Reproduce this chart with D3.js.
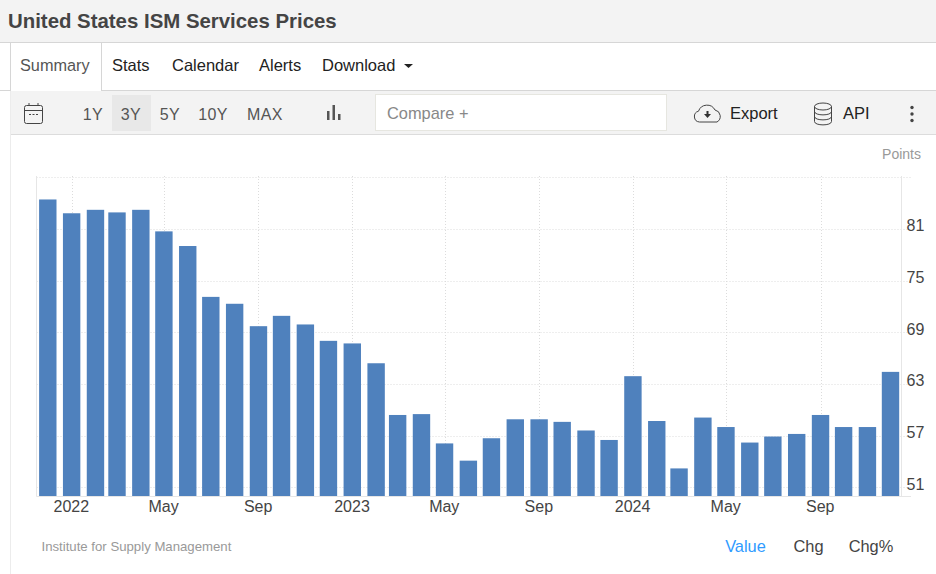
<!DOCTYPE html>
<html>
<head>
<meta charset="utf-8">
<script src="https://cdnjs.cloudflare.com/ajax/libs/d3/7.8.5/d3.min.js"></script>
<style>
    html, body { margin: 0; padding: 0; background: #fff; }
    svg { display: block; font-family: "Liberation Sans", sans-serif; }
</style>
</head>
<body>
<div id="chart"></div>
<script>
// Monthly readings, Dec 2021 to Dec 2024
const months = [
    "2021-12", "2022-01", "2022-02", "2022-03", "2022-04", "2022-05", "2022-06", "2022-07", "2022-08",
    "2022-09", "2022-10", "2022-11", "2022-12", "2023-01", "2023-02", "2023-03", "2023-04", "2023-05",
    "2023-06", "2023-07", "2023-08", "2023-09", "2023-10", "2023-11", "2023-12", "2024-01", "2024-02",
    "2024-03", "2024-04", "2024-05", "2024-06", "2024-07", "2024-08", "2024-09", "2024-10", "2024-11",
    "2024-12"
];
const values = [
    84.4, 82.8, 83.2, 82.9, 83.2, 80.7, 79.0, 73.1, 72.3,
    69.7, 70.9, 69.9, 68.0, 67.7, 65.4, 59.4, 59.5, 56.1,
    54.1, 56.7, 58.9, 58.9, 58.6, 57.6, 56.5, 63.9, 58.7,
    53.2, 59.1, 58.0, 56.2, 56.9, 57.2, 59.4, 58.0, 58.0,
    64.4
];
const xTickMonths = ["2022-01", "2022-05", "2022-09", "2023-01", "2023-05", "2023-09", "2024-01", "2024-05", "2024-09"];
const xTickLabels = ["2022", "May", "Sep", "2023", "May", "Sep", "2024", "May", "Sep"];
const yTicks = [51, 57, 63, 69, 75, 81];
const yGridTop = 87;
const tabs = ["Stats", "Calendar", "Alerts", "Download"];
const tabX = [112, 172, 259, 322];
const ranges = ["1Y", "3Y", "5Y", "10Y", "MAX"];
const rangeX = [93, 131, 170, 213, 265];
const footerLinks = ["Value", "Chg", "Chg%"];
const footerX = [745.5, 808.5, 871];

const width = 936;
const height = 574;
const parseMonth = d3.utcParse("%Y-%m");

const svg = d3.select("#chart").append("svg")
    .attr("width", width)
    .attr("height", height)
    .attr("viewBox", [0, 0, width, height]);

// ---- Page chrome ----
svg.append("rect").attr("width", width).attr("height", 42).attr("fill", "#f3f3f3");
svg.append("rect").attr("y", 42).attr("width", width).attr("height", 1).attr("fill", "#d6d6d6");
svg.append("text").attr("x", 8).attr("y", 28)
    .attr("font-size", 20.4).attr("font-weight", "bold").attr("fill", "#444")
    .text("United States ISM Services Prices");

// Toolbar
svg.append("rect").attr("x", 10).attr("y", 90).attr("width", width - 10).attr("height", 45).attr("fill", "#f3f3f3");
svg.append("rect").attr("y", 90).attr("width", width).attr("height", 1).attr("fill", "#d6d6d6");
svg.append("rect").attr("x", 10).attr("y", 134).attr("width", width - 10).attr("height", 1).attr("fill", "#dcdcdc");
svg.append("rect").attr("x", 10).attr("y", 43).attr("width", 1).attr("height", height - 43).attr("fill", "#ececec");

// Tabs
svg.append("rect").attr("x", 10).attr("y", 43).attr("width", 91).attr("height", 48).attr("fill", "#fff");
svg.append("rect").attr("x", 101).attr("y", 43).attr("width", 1).attr("height", 48).attr("fill", "#d6d6d6");
svg.append("rect").attr("x", 10).attr("y", 43).attr("width", 1).attr("height", 48).attr("fill", "#d6d6d6");
svg.append("text").attr("x", 20).attr("y", 71).attr("font-size", 16.3).attr("fill", "#555").text("Summary");
svg.append("g").selectAll("text").data(tabs).join("text")
    .attr("x", (d, i) => tabX[i]).attr("y", 71)
    .attr("font-size", 16.5).attr("fill", "#222")
    .text(d => d);
svg.append("path").attr("d", "M404,64h9l-4.5,4z").attr("fill", "#222");

// Calendar icon
const cal = svg.append("g").attr("fill", "none").attr("stroke", "#444").attr("stroke-width", 1);
cal.append("rect").attr("x", 24.5).attr("y", 105.5).attr("width", 18).attr("height", 18).attr("rx", 2);
cal.append("path").attr("d", "M24.5,110.5h18M29,103v3M38,103v3");
cal.append("path").attr("d", "M29,114.5h2M32.5,114.5h2M36,114.5h2");

// Range buttons
svg.append("rect").attr("x", 112).attr("y", 95).attr("width", 39).attr("height", 36).attr("fill", "#e8e8e8");
svg.append("g").selectAll("text").data(ranges).join("text")
    .attr("x", (d, i) => rangeX[i]).attr("y", 120)
    .attr("text-anchor", "middle").attr("font-size", 16).attr("letter-spacing", 0.4).attr("fill", "#555")
    .text(d => d);

// Bar chart icon
svg.append("path").attr("d", "M327,111h2.5v9H327zM332.5,105h2.5v15h-2.5zM338,114h2.5v6H338z").attr("fill", "#555");

// Compare box
svg.append("rect").attr("x", 375.5).attr("y", 94.5).attr("width", 291).attr("height", 36)
    .attr("fill", "#fff").attr("stroke", "#e6e6e0");
svg.append("text").attr("x", 387).attr("y", 119).attr("font-size", 16.4).attr("fill", "#888").text("Compare +");

// Export icon and text
svg.append("path")
    .attr("d", "M702,122h-2.5a5.5,5.5 0 0 1 -1,-10.8a9,9 0 0 1 16.5,-1.2a6.5,6.5 0 0 1 2,12h-15")
    .attr("fill", "none").attr("stroke", "#444");
svg.append("path").attr("d", "M706.5,111h2v3h2.5l-3.5,4l-3.5,-4h2.5z").attr("fill", "#333");
svg.append("text").attr("x", 730).attr("y", 119).attr("font-size", 16.5).attr("fill", "#222").text("Export");

// API icon and text
const db = svg.append("g").attr("fill", "none").attr("stroke", "#444");
db.append("ellipse").attr("cx", 823).attr("cy", 106.5).attr("rx", 8.5).attr("ry", 3.5);
db.append("path").attr("d", "M814.5,106.5v15c0,4.500 17,4.500 17,0v-15M814.5,111.500c0,4.500 17,4.500 17,0M814.500,116.500c0,4.500 17,4.500 17,0");
svg.append("text").attr("x", 843).attr("y", 119).attr("font-size", 16.5).attr("fill", "#222").text("API");

// Kebab menu
svg.append("g").selectAll("circle").data([107.5, 114, 120.5]).join("circle")
    .attr("cx", 912).attr("cy", d => d).attr("r", 1.7).attr("fill", "#444");

// ---- Chart ----
const plot = { left: 36.5, right: 901.5, top: 176, bottom: 496 };

const x = d3.scaleUtc()
    .domain([parseMonth(months[0]), parseMonth(months[months.length - 1])])
    .range([47.8, 890.5]);

const y = d3.scaleLinear()
    .domain([50, yGridTop])
    .range([plot.bottom, plot.bottom - (yGridTop - 50) * 8.62]);

const barWidth = 17.4;

// Gridlines sit behind the bars
const grid = svg.append("g")
    .attr("fill", "none").attr("stroke", "#dcdcdc").attr("stroke-dasharray", "1,2");
grid.selectAll("line.h").data(yTicks.concat(yGridTop)).join("line")
    .attr("class", "h")
    .attr("x1", plot.left).attr("x2", 911)
    .attr("y1", d => Math.round(y(d)) + 0.5).attr("y2", d => Math.round(y(d)) + 0.5);
grid.selectAll("line.v").data(xTickMonths).join("line")
    .attr("class", "v")
    .attr("x1", d => Math.round(x(parseMonth(d))) + 0.5).attr("x2", d => Math.round(x(parseMonth(d))) + 0.5)
    .attr("y1", plot.top).attr("y2", plot.bottom);

svg.append("g").selectAll("rect").data(values).join("rect")
    .attr("x", (d, i) => x(parseMonth(months[i])) - barWidth / 2)
    .attr("y", d => y(d))
    .attr("width", barWidth)
    .attr("height", d => y(50) - y(d))
    .attr("fill", "#4f81bd");

// Plot frame: left, right and bottom edges
const frame = svg.append("g").attr("stroke", "#e6e6e6").attr("fill", "none");
frame.append("path").attr("d", `M${plot.left},${plot.top}V${plot.bottom + 0.5}H911`);
frame.append("path").attr("d", `M${plot.right},${plot.top}V${plot.bottom}`);

// Axes
const xAxis = d3.axisBottom(x)
    .tickValues(xTickMonths.map(parseMonth))
    .tickFormat((d, i) => xTickLabels[i])
    .tickSize(0)
    .tickPadding(5);
svg.append("g")
    .attr("transform", `translate(-0.8,${plot.bottom})`)
    .call(xAxis)
    .call(g => g.select(".domain").remove())
    .call(g => g.selectAll("text").attr("font-size", 16).attr("font-family", "Liberation Sans").attr("fill", "#444"));

const yAxis = d3.axisRight(y)
    .tickValues(yTicks)
    .tickSize(0)
    .tickPadding(5);
svg.append("g")
    .attr("transform", `translate(${plot.right},0)`)
    .call(yAxis)
    .call(g => g.select(".domain").remove())
    .call(g => g.selectAll("text").attr("font-size", 16).attr("font-family", "Liberation Sans").attr("fill", "#444").attr("dy", "0.12em"));

svg.append("text").attr("x", 921).attr("y", 159)
    .attr("text-anchor", "end").attr("font-size", 14).attr("fill", "#999").text("Points");

// Footer
svg.append("text").attr("x", 41.5).attr("y", 551)
    .attr("font-size", 13.2).attr("fill", "#999").text("Institute for Supply Management");
svg.append("g").selectAll("text").data(footerLinks).join("text")
    .attr("x", (d, i) => footerX[i]).attr("y", 552)
    .attr("text-anchor", "middle").attr("font-size", 16.4)
    .attr("fill", (d, i) => i === 0 ? "#2f9bff" : "#444")
    .text(d => d);
</script>
</body>
</html>
